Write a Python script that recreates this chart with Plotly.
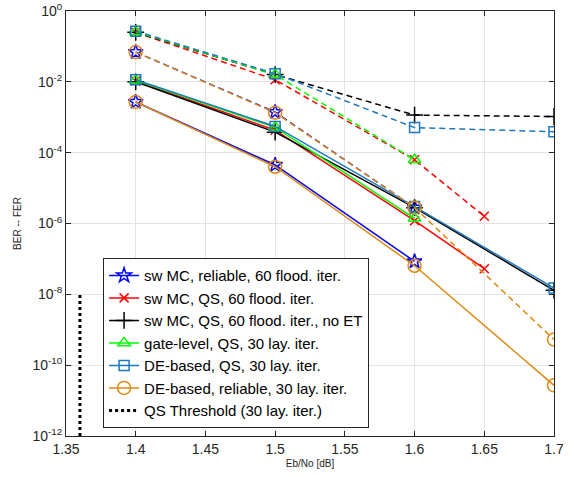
import plotly.graph_objects as go

# ---- data ----
x_blue = [1.4, 1.5, 1.6]
blue_ber = [2.7e-3, 4.5e-5, 8.5e-8]
blue_fer = [6.9e-2, 1.4e-3, 2.8e-6]

x_red = [1.4, 1.5, 1.6, 1.65]
red_ber = [1.05e-2, 4.3e-4, 1.2e-6, 5.3e-8]
red_fer = [0.25, 1.15e-2, 6.3e-5, 1.6e-6]

x_black = [1.4, 1.5, 1.6, 1.7]
black_ber = [1.0e-2, 3.8e-4, 2.8e-6, 1.3e-8]
black_fer = [0.25, 1.6e-2, 1.15e-3, 1.05e-3]

x_green = [1.4, 1.5, 1.6]
green_ber = [1.1e-2, 5.2e-4, 1.4e-6]
green_fer = [0.26, 1.6e-2, 6.3e-5]

x_sq = [1.4, 1.5, 1.6, 1.7]
sq_ber = [1.15e-2, 5.5e-4, 3.0e-6, 1.5e-8]
sq_fer = [0.27, 1.7e-2, 5.1e-4, 3.9e-4]

x_or = [1.4, 1.5, 1.6, 1.7]
or_ber = [2.7e-3, 4.0e-5, 6.4e-8, 2.7e-11]
or_fer = [6.9e-2, 1.35e-3, 2.8e-6, 5.3e-10]

thr_x = [1.36, 1.36]
thr_y = [1e-12, 1e-8]

names = [
    "sw MC, reliable, 60 flood. iter.",
    "sw MC, QS, 60 flood. iter.",
    "sw MC, QS, 60 flood. iter., no ET",
    "gate-level, QS, 30 lay. iter.",
    "DE-based, QS, 30 lay. iter.",
    "DE-based, reliable, 30 lay. iter.",
    "QS Threshold (30 lay. iter.)",
]

series = [
    (x_blue, blue_ber, blue_fer, "#0000FF", "star-open", 11),
    (x_red, red_ber, red_fer, "#FF0000", "x-thin-open", 9),
    (x_black, black_ber, black_fer, "#000000", "cross-thin-open", 12),
    (x_green, green_ber, green_fer, "#00FF00", "triangle-up-open", 11),
    (x_sq, sq_ber, sq_fer, "#1F78BE", "square-open", 10),
    (x_or, or_ber, or_fer, "#DF8A12", "circle-open", 13),
]

fig = go.Figure()
for i, (xs, ber, fer, col, sym, sz) in enumerate(series):
    mk = dict(symbol=sym, size=sz, color=col, line=dict(color=col, width=1.5))
    fig.add_trace(go.Scatter(x=xs, y=fer, mode="lines+markers", showlegend=False,
                             line=dict(color=col, width=1.5, dash="6px,4px"), marker=mk))
    fig.add_trace(go.Scatter(x=xs, y=ber, mode="lines+markers", name=names[i],
                             line=dict(color=col, width=1.5), marker=mk))

fig.add_trace(go.Scatter(x=thr_x, y=thr_y, mode="lines", name=names[6],
                         line=dict(color="black", width=3, dash="dot")))

ytv = [10.0 ** e for e in range(-12, 1, 2)]
ytt = ["10<sup>%d</sup>" % e for e in range(-12, 1, 2)]

fig.update_layout(
    width=574, height=477,
    margin=dict(l=66, r=20, t=11, b=41),
    paper_bgcolor="white", plot_bgcolor="white",
    font=dict(family="Liberation Sans", size=14, color="#262626"),
    xaxis=dict(range=[1.35, 1.7], tickvals=[1.35, 1.4, 1.45, 1.5, 1.55, 1.6, 1.65, 1.7],
               ticktext=["1.35", "1.4", "1.45", "1.5", "1.55", "1.6", "1.65", "1.7"],
               showgrid=True, gridcolor="#E3E3E3", gridwidth=1, automargin=False,
               showline=True, linecolor="#262626", linewidth=1, mirror="ticks",
               ticks="inside", ticklen=5, tickcolor="#262626", zeroline=False,
               title=dict(text="Eb/No [dB]", font=dict(size=10), standoff=4)),
    yaxis=dict(type="log", range=[-12, 0], tickvals=ytv, ticktext=ytt,
               showgrid=True, gridcolor="#E3E3E3", gridwidth=1, automargin=False,
               showline=True, linecolor="#262626", linewidth=1, mirror="ticks",
               ticks="inside", ticklen=5, tickcolor="#262626", zeroline=False,
               title=dict(text="BER -- FER", font=dict(size=10), standoff=8)),
    legend=dict(x=0.076, y=0.4185, xanchor="left", yanchor="top",
                bgcolor="white", bordercolor="#262626", borderwidth=1,
                font=dict(size=15, color="black"), itemwidth=30, tracegroupgap=0,
                entrywidth=255, entrywidthmode="pixels"),
)

fig.write_html("out.html", post_script="document.body.style.margin='0';",
               config={"displayModeBar": False})
